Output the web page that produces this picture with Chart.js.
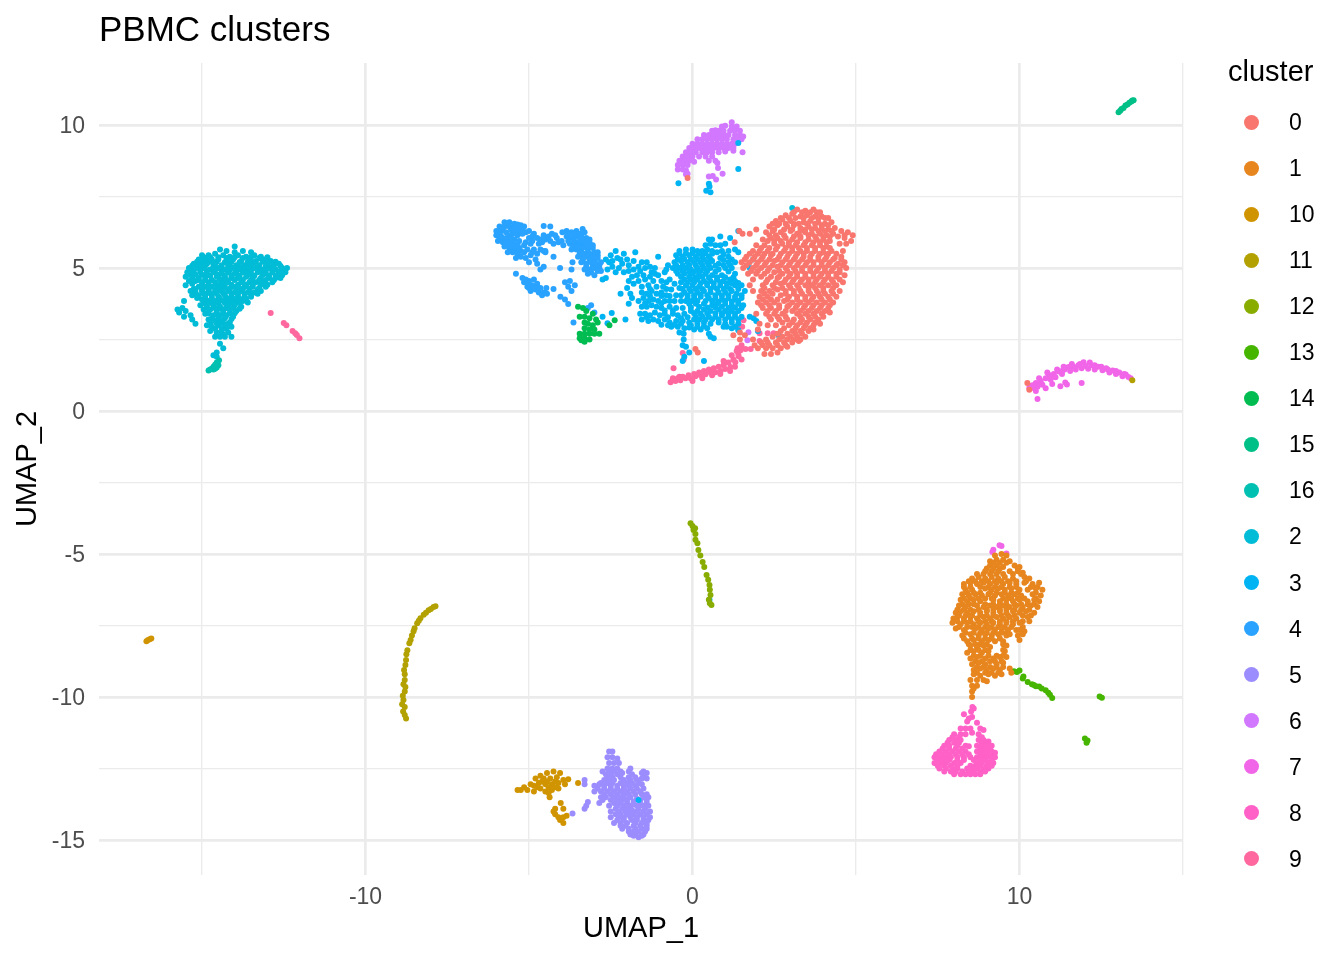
<!DOCTYPE html>
<html>
<head>
<meta charset="utf-8">
<title>PBMC clusters</title>
<script src="https://cdn.jsdelivr.net/npm/chart.js@4"></script>
<style>
  body { margin: 0; background: #fff; font-family: "Liberation Sans", sans-serif; }
  #wrap { position: relative; width: 1344px; height: 960px; }
  #legendTitle { position: absolute; left: 1228px; top: 54px; font-size: 29px; line-height: 34px; color: #000; }
  .dot { position: absolute; left: 1243.5px; width: 15px; height: 15px; border-radius: 50%; }
  .lab { position: absolute; left: 1289px; font-size: 23px; line-height: 28px; color: #000; }
</style>
</head>
<body>
<div id="wrap">
  <canvas id="umap" width="1344" height="960"></canvas>
  <div id="legendTitle">cluster</div>
</div>
<script>
// cluster names in legend order (ggplot sorts them as text)
var clusterNames = ['0','1','10','11','12','13','14','15','16','2','3','4','5','6','7','8','9'];
var clusterColors = ['#F8766D','#E7851E','#D09400','#B2A100','#89AC00','#45B500','#00BC51','#00C087','#00C0B2','#00BCD6','#00B3F2','#29A3FF','#9C8DFF','#D277FF','#F166E8','#FF61C7','#FF689E'];

var xGrid = [-15,-10,-5,0,5,10,15];
var xLabels = [-10,0,10];
var yGrid = [-15,-12.5,-10,-7.5,-5,-2.5,0,2.5,5,7.5,10];
var yLabels = [-15,-10,-5,0,5,10];

// points, [UMAP_1, UMAP_2]
var c0 = [
[3.2,7.05],[3.45,7.0],[3.7,7.05],[3.9,6.95],[3.1,6.95],[3.35,6.95],[3.6,6.95],[3.8,6.95],
[2.85,6.85],[3.05,6.9],[3.3,6.8],[3.5,6.85],[3.75,6.8],[3.95,6.8],[4.15,6.75],[2.7,6.75],[2.95,6.75],[3.15,6.75],[3.4,6.75],[3.65,6.75],[3.85,6.75],[4.05,6.75],
[2.55,6.65],[2.75,6.7],[3.0,6.65],[3.4,6.6],[3.6,6.65],[3.85,6.6],[4.05,6.55],[4.25,6.6],[2.45,6.55],[2.65,6.55],[2.85,6.55],[3.1,6.55],[3.25,6.55],[3.5,6.55],[3.75,6.55],[3.95,6.5],[4.15,6.5],
[2.35,6.45],[2.6,6.5],[2.9,6.45],[3.1,6.5],[3.3,6.4],[3.55,6.45],[3.75,6.4],[3.95,6.4],[4.15,6.35],[4.35,6.4],[2.5,6.35],[2.8,6.35],[3.05,6.35],[3.3,6.3],[3.45,6.35],[3.65,6.35],[3.85,6.3],[4.05,6.3],[4.25,6.3],
[2.25,6.25],[2.45,6.3],[2.7,6.25],[3.0,6.3],[3.2,6.2],[3.45,6.25],[3.65,6.2],[3.9,6.2],[4.1,6.15],[4.3,6.2],[4.55,6.3],[4.75,6.25],[4.9,6.15],[2.35,6.15],[2.55,6.15],[2.8,6.15],[3.1,6.1],[3.3,6.1],[3.55,6.15],[3.75,6.1],[4.0,6.1],[4.2,6.1],[4.65,6.15],
[2.15,6.0],[2.4,6.05],[2.6,6.05],[2.85,6.05],[3.05,6.0],[3.3,6.05],[3.55,6.0],[3.8,6.0],[4.0,6.0],[4.2,5.95],[4.45,6.1],[4.65,6.05],[4.85,5.95],[2.3,5.95],[2.5,5.95],[2.7,5.95],[2.95,5.9],[3.2,5.9],[3.45,5.9],[3.7,5.9],[3.9,5.9],[4.1,5.9],
[1.95,5.8],[2.2,5.8],[2.5,5.85],[2.75,5.85],[2.95,5.8],[3.15,5.8],[3.4,5.8],[3.65,5.8],[3.9,5.8],[4.1,5.75],[4.5,5.85],[4.7,5.85],[2.1,5.7],[2.35,5.7],[2.6,5.75],[2.85,5.7],[3.05,5.7],[3.25,5.7],[3.5,5.7],[3.75,5.7],[4.0,5.7],[4.2,5.7],
[1.85,5.6],[2.05,5.6],[2.3,5.6],[2.55,5.65],[2.8,5.6],[3.05,5.6],[3.3,5.6],[3.5,5.6],[3.75,5.6],[4.0,5.55],[4.25,5.6],[4.6,5.6],[1.75,5.5],[2.0,5.5],[2.2,5.5],[2.45,5.5],[2.7,5.5],[2.95,5.5],[3.2,5.5],[3.4,5.5],[3.65,5.5],[3.9,5.5],[4.15,5.5],[4.4,5.5],
[1.65,5.4],[1.9,5.4],[2.15,5.4],[2.4,5.45],[2.65,5.4],[2.9,5.4],[3.15,5.4],[3.4,5.4],[3.6,5.4],[3.85,5.4],[4.1,5.4],[4.35,5.35],[4.55,5.4],[1.6,5.3],[1.85,5.3],[2.1,5.3],[2.35,5.3],[2.6,5.3],[2.85,5.3],[3.1,5.3],[3.35,5.3],[3.6,5.3],[3.85,5.3],[4.05,5.3],[4.3,5.3],[4.55,5.3],
[1.5,5.2],[1.75,5.2],[2.0,5.2],[2.25,5.2],[2.5,5.25],[2.75,5.2],[3.0,5.2],[3.25,5.2],[3.5,5.2],[3.7,5.2],[3.95,5.2],[4.2,5.2],[4.45,5.15],[4.65,5.2],[1.65,5.1],[1.95,5.1],[2.2,5.1],[2.45,5.1],[2.7,5.1],[2.95,5.1],[3.2,5.1],[3.45,5.1],[3.7,5.1],[3.95,5.1],[4.15,5.1],[4.4,5.1],[4.6,5.1],
[1.55,5.0],[1.85,5.0],[2.1,5.0],[2.35,5.0],[2.6,5.05],[2.85,5.0],[3.1,5.0],[3.35,5.0],[3.6,5.0],[3.85,5.0],[4.05,5.0],[4.3,5.0],[4.5,4.95],[4.7,5.0],[1.8,4.9],[2.0,4.9],[2.3,4.9],[2.65,4.9],[2.9,4.9],[3.15,4.9],[3.35,4.9],[3.6,4.9],[3.8,4.9],[4.05,4.9],[4.25,4.9],[4.5,4.85],
[1.7,4.8],[1.95,4.8],[2.2,4.8],[2.5,4.85],[2.75,4.8],[3.0,4.8],[3.2,4.8],[3.45,4.8],[3.7,4.8],[3.95,4.8],[4.15,4.8],[4.4,4.8],[4.65,4.75],[2.1,4.7],[2.4,4.7],[2.65,4.7],[2.95,4.7],[3.2,4.7],[3.45,4.7],[3.7,4.7],[3.9,4.7],[4.15,4.7],[4.4,4.7],
[1.85,4.6],[2.3,4.6],[2.6,4.65],[2.85,4.6],[3.1,4.6],[3.35,4.6],[3.55,4.6],[3.8,4.6],[4.05,4.6],[4.25,4.6],[4.5,4.6],[4.6,4.5],[2.25,4.5],[2.55,4.5],[2.8,4.5],[3.05,4.5],[3.3,4.5],[3.55,4.5],[3.75,4.5],[4.0,4.5],[4.3,4.5],
[2.15,4.4],[2.45,4.4],[2.7,4.45],[2.95,4.4],[3.2,4.4],[3.45,4.4],[3.65,4.4],[3.9,4.4],[4.15,4.4],[4.4,4.4],[2.2,4.3],[2.5,4.3],[2.75,4.3],[3.0,4.3],[3.25,4.3],[3.55,4.3],[3.75,4.3],[4.0,4.3],[4.3,4.3],
[2.1,4.2],[2.35,4.2],[2.6,4.25],[2.85,4.2],[3.1,4.2],[3.3,4.2],[3.55,4.2],[3.8,4.2],[4.0,4.2],[4.25,4.2],[4.5,4.2],[2.2,4.1],[2.45,4.1],[2.85,4.1],[3.1,4.1],[3.35,4.1],[3.6,4.1],[3.85,4.1],[4.05,4.1],[4.3,4.1],
[2.05,4.0],[2.3,4.0],[2.7,4.05],[2.95,4.0],[3.2,4.0],[3.45,4.0],[3.7,4.0],[3.9,4.0],[4.15,4.0],[4.4,4.0],[2.15,3.9],[2.4,3.9],[2.6,3.9],[2.9,3.9],[3.2,3.9],[3.45,3.9],[3.65,3.9],[3.95,3.9],[4.2,3.9],
[2.0,3.8],[2.25,3.8],[2.5,3.8],[2.8,3.85],[3.05,3.8],[3.3,3.8],[3.55,3.8],[3.8,3.8],[4.05,3.8],[4.3,3.8],[2.1,3.7],[2.35,3.7],[2.65,3.7],[2.95,3.7],[3.2,3.7],[3.45,3.7],[3.7,3.7],[3.95,3.7],[4.2,3.7],
[2.15,3.6],[2.4,3.6],[2.65,3.6],[2.9,3.65],[3.15,3.6],[3.4,3.6],[3.65,3.6],[3.9,3.6],[4.15,3.6],[2.3,3.5],[2.55,3.5],[2.85,3.5],[3.05,3.5],[3.3,3.5],[3.55,3.5],[3.8,3.5],[4.05,3.5],
[2.25,3.4],[2.5,3.4],[2.75,3.4],[3.2,3.4],[3.45,3.4],[3.7,3.4],[3.95,3.4],[4.2,3.45],[2.35,3.3],[2.6,3.3],[2.85,3.3],[3.3,3.3],[3.55,3.3],[3.75,3.3],
[2.4,3.2],[2.65,3.2],[2.9,3.2],[3.1,3.2],[3.35,3.2],[3.6,3.2],[3.85,3.2],[4.0,3.3],[2.75,3.1],[3.05,3.1],[3.3,3.1],[3.5,3.1],[3.75,3.1],
[2.55,3.0],[2.95,3.0],[3.2,3.0],[3.45,3.0],[3.7,3.0],[3.9,3.05],[2.8,2.9],[3.15,2.9],[3.4,2.9],[3.6,2.9],
[2.7,2.8],[3.05,2.8],[3.3,2.8],[3.55,2.8],[3.7,2.85],[2.6,2.7],[2.9,2.7],[3.15,2.7],[3.35,2.7],
[2.45,2.6],[2.75,2.6],[3.0,2.6],[3.2,2.6],[3.45,2.6],[2.25,2.5],[2.65,2.5],[2.9,2.5],[3.1,2.5],[3.3,2.5],
[2.1,2.4],[2.3,2.4],[2.55,2.4],[2.8,2.4],[3.05,2.4],[3.25,2.45],[2.15,2.3],[2.35,2.3],[2.6,2.3],[2.85,2.3],
[2.0,2.2],[2.25,2.2],[2.45,2.2],[2.7,2.2],[2.9,2.25],
[2.2,2.0],[2.4,2.0],[2.6,2.05],[1.9,2.3],[1.85,2.5],
[0.09,2.17],[0.16,2.05],[1.25,2.65],[1.45,2.75],[1.45,2.5],[1.6,2.65],[1.29,5.9],[1.43,6.3],[1.53,6.2],[1.75,6.2],[1.95,6.35],
[1.75,4.4],[1.85,4.2],[1.95,3.4],[2.05,3.05],[2.3,3.0],[2.0,2.85],[10.24,0.98],[10.3,0.75],[-0.15,8.15]
];
var c1 = [
[9.25,-5.05],[9.45,-5.0],[9.6,-5.05],
[9.1,-5.25],[9.3,-5.2],[9.5,-5.2],[9.7,-5.25],[9.2,-5.3],[9.4,-5.3],[9.6,-5.3],
[9.1,-5.4],[9.3,-5.4],[9.5,-5.45],[9.85,-5.4],[10.0,-5.45],[9.0,-5.5],[9.2,-5.5],[9.4,-5.5],[9.95,-5.5],
[8.95,-5.6],[9.15,-5.6],[9.35,-5.6],[9.7,-5.6],[9.95,-5.6],[10.1,-5.65],[8.7,-5.7],[8.9,-5.7],[9.1,-5.7],[9.3,-5.7],[9.5,-5.7],[9.8,-5.7],[10.05,-5.7],
[8.55,-5.85],[8.75,-5.8],[8.95,-5.85],[9.15,-5.8],[9.35,-5.85],[9.55,-5.8],[9.8,-5.85],[10.15,-5.8],[10.3,-5.85],[8.45,-5.95],[8.65,-5.95],[8.85,-5.95],[9.05,-5.95],[9.25,-5.95],[9.45,-5.95],[9.65,-5.95],[9.9,-5.95],[10.2,-5.95],
[8.3,-6.05],[8.5,-6.0],[8.7,-6.05],[8.9,-6.0],[9.1,-6.05],[9.3,-6.0],[9.5,-6.05],[9.7,-6.0],[9.9,-6.05],[10.15,-6.0],[10.4,-6.05],[10.6,-6.0],[8.3,-6.15],[8.5,-6.15],[8.8,-6.15],[9.05,-6.15],[9.25,-6.15],[9.45,-6.15],[9.7,-6.15],[9.9,-6.15],[10.35,-6.15],[10.55,-6.15],
[8.35,-6.25],[8.55,-6.25],[8.95,-6.2],[9.15,-6.25],[9.35,-6.2],[9.55,-6.25],[9.75,-6.2],[10.0,-6.25],[10.25,-6.25],[10.5,-6.2],[10.7,-6.25],[8.4,-6.35],[8.6,-6.35],[8.8,-6.35],[9.1,-6.35],[9.3,-6.35],[9.55,-6.35],[9.75,-6.35],[9.95,-6.35],[10.5,-6.35],
[8.25,-6.4],[8.45,-6.45],[8.65,-6.4],[8.85,-6.45],[9.05,-6.4],[9.25,-6.45],[9.45,-6.4],[9.65,-6.45],[9.85,-6.4],[10.05,-6.45],[10.4,-6.4],[10.65,-6.45],[8.3,-6.55],[8.5,-6.55],[8.75,-6.55],[8.95,-6.55],[9.15,-6.55],[9.5,-6.55],[9.75,-6.55],[9.95,-6.55],[10.15,-6.55],[10.5,-6.55],
[8.2,-6.6],[8.4,-6.65],[8.6,-6.6],[8.8,-6.65],[9.2,-6.6],[9.4,-6.65],[9.6,-6.6],[9.8,-6.65],[10.0,-6.6],[10.25,-6.65],[10.45,-6.6],[10.6,-6.65],[8.25,-6.75],[8.45,-6.75],[8.6,-6.75],[8.95,-6.75],[9.2,-6.75],[9.4,-6.75],[9.6,-6.75],[9.85,-6.75],[10.05,-6.75],[10.25,-6.75],[10.45,-6.75],
[8.15,-6.8],[8.35,-6.85],[8.7,-6.8],[8.9,-6.85],[9.1,-6.8],[9.3,-6.85],[9.5,-6.8],[9.7,-6.85],[9.9,-6.8],[10.1,-6.85],[10.35,-6.8],[10.55,-6.85],[8.1,-6.95],[8.3,-6.95],[8.5,-6.95],[8.75,-6.95],[9.0,-6.95],[9.2,-6.95],[9.4,-6.95],[9.6,-6.95],[9.85,-6.95],[10.05,-6.95],[10.3,-6.95],
[8.05,-7.05],[8.2,-7.0],[8.4,-7.05],[8.6,-7.0],[8.8,-7.05],[9.0,-7.0],[9.2,-7.05],[9.4,-7.0],[9.6,-7.05],[9.8,-7.0],[10.0,-7.05],[10.2,-7.0],[10.45,-7.05],[8.15,-7.15],[8.35,-7.15],[8.55,-7.15],[8.8,-7.15],[9.0,-7.15],[9.2,-7.15],[9.45,-7.15],[9.65,-7.15],[9.85,-7.15],[10.1,-7.15],[10.35,-7.15],
[7.98,-7.25],[8.1,-7.2],[8.3,-7.25],[8.5,-7.2],[8.7,-7.25],[8.9,-7.2],[9.1,-7.25],[9.3,-7.2],[9.5,-7.25],[9.7,-7.2],[9.9,-7.25],[10.25,-7.2],[8.1,-7.35],[8.3,-7.35],[8.5,-7.35],[8.75,-7.35],[8.95,-7.35],[9.15,-7.35],[9.4,-7.35],[9.6,-7.35],[9.8,-7.35],[10.1,-7.35],[10.3,-7.35],
[7.95,-7.4],[8.2,-7.45],[8.4,-7.4],[8.6,-7.45],[8.8,-7.4],[9.0,-7.45],[9.2,-7.4],[9.4,-7.45],[9.6,-7.4],[9.8,-7.45],[10.0,-7.4],[8.15,-7.55],[8.4,-7.55],[8.55,-7.55],[8.75,-7.55],[8.95,-7.55],[9.15,-7.55],[9.35,-7.55],[9.55,-7.55],[9.75,-7.55],[10.1,-7.55],
[8.05,-7.6],[8.3,-7.65],[8.65,-7.6],[8.85,-7.65],[9.05,-7.6],[9.25,-7.65],[9.45,-7.6],[9.65,-7.65],[9.9,-7.65],[10.0,-7.65],[10.15,-7.7],[8.35,-7.75],[8.6,-7.75],[8.8,-7.75],[9.0,-7.75],[9.2,-7.75],[9.45,-7.75],[9.6,-7.75],
[8.25,-7.85],[8.5,-7.8],[8.75,-7.85],[8.95,-7.8],[9.15,-7.85],[9.35,-7.8],[9.6,-7.85],[9.7,-7.8],[9.95,-7.85],[10.1,-7.8],[10.0,-8.0],[8.3,-7.95],[8.55,-7.95],[8.75,-7.95],[8.95,-7.95],[9.15,-7.95],[9.4,-7.95],
[8.4,-8.05],[8.6,-8.0],[8.85,-8.05],[9.05,-8.0],[9.25,-8.05],[9.5,-8.05],[8.45,-8.15],[8.65,-8.15],[8.8,-8.15],[9.0,-8.15],[9.5,-8.15],
[8.5,-8.2],[8.7,-8.25],[8.9,-8.2],[9.1,-8.25],[9.6,-8.2],[8.5,-8.35],[8.75,-8.35],[8.95,-8.35],[9.5,-8.35],
[8.4,-8.45],[8.6,-8.4],[8.85,-8.45],[9.05,-8.4],[9.55,-8.4],[8.6,-8.55],[8.8,-8.55],[9.05,-8.55],[9.3,-8.55],[9.5,-8.55],
[8.5,-8.65],[8.7,-8.6],[8.95,-8.65],[9.2,-8.65],[9.4,-8.6],[9.6,-8.6],[8.65,-8.75],[8.85,-8.75],[9.25,-8.75],[9.45,-8.75],
[8.55,-8.85],[8.75,-8.8],[8.95,-8.85],[9.1,-8.75],[9.3,-8.85],[9.5,-8.8],[8.7,-8.95],[8.9,-8.95],[9.1,-8.95],[9.3,-8.95],[9.5,-8.95],
[8.6,-9.05],[8.8,-9.0],[9.0,-9.05],[9.2,-9.0],[9.4,-9.05],[9.7,-9.0],[8.7,-9.15],[8.95,-9.15],[9.15,-9.15],[9.35,-9.15],
[8.6,-9.2],[8.8,-9.25],[9.05,-9.2],[9.25,-9.25],[9.45,-9.2],[9.75,-9.15],
[8.5,-9.4],[8.7,-9.4],[8.9,-9.4],[9.0,-9.45],
[8.55,-9.6],[8.7,-9.6],[8.55,-9.8],[8.6,-9.7],[8.55,-10.0]
];
var c10 = [
[-16.7,-8.05],[-16.65,-8.0],[-16.6,-7.98],[-16.55,-7.95],
[-5.35,-13.25],[-5.25,-13.25],[-5.15,-13.15],[-5.05,-13.25],[-4.95,-13.05],
[-4.85,-13.3],[-4.85,-13.1],[-4.8,-12.85],[-4.7,-13.0],[-4.65,-12.75],[-4.65,-13.2],[-4.55,-12.85],[-4.5,-13.05],[-4.5,-13.3],
[-4.45,-12.65],[-4.35,-12.85],[-4.3,-13.05],[-4.3,-13.25],[-4.25,-12.6],[-4.15,-12.8],[-4.1,-13.0],[-4.1,-13.2],
[-4.05,-12.65],[-3.95,-12.9],[-3.9,-13.05],[-4.37,-13.5],[-4.4,-13.35],[-3.8,-12.87],[-3.5,-13.0],
[-4.45,-12.95],[-4.6,-12.95],[-4.2,-12.95],[-4.2,-13.15],[-4.4,-13.15],[-4.75,-13.15],
[-4.03,-13.7],[-3.95,-13.9],[-4.2,-13.9],[-4.25,-14.0],[-4.2,-14.1],[-4.1,-14.2],[-4.05,-14.3],[-3.95,-14.4],[-3.95,-14.2],[-3.85,-14.15]
];
var c11 = [
[-7.86,-6.82],[-7.92,-6.85],[-8.0,-6.92],[-8.07,-6.96],[-8.15,-7.05],[-8.22,-7.12],[-8.32,-7.24],[-8.37,-7.33],[-8.42,-7.42],[-8.5,-7.59],[-8.53,-7.7],
[-8.58,-7.85],[-8.62,-8.0],[-8.66,-8.12],[-8.72,-8.36],[-8.75,-8.5],[-8.76,-8.7],[-8.78,-8.88],[-8.82,-9.05],[-8.8,-9.2],[-8.8,-9.4],[-8.84,-9.55],[-8.78,-9.65],
[-8.8,-9.8],[-8.86,-9.95],[-8.84,-10.1],[-8.88,-10.25],[-8.8,-10.35],[-8.85,-10.5],[-8.8,-10.63],[-8.76,-10.75],[13.45,1.08]
];
var c12 = [
[-0.06,-3.92],[0.0,-4.02],[0.03,-4.16],[0.08,-4.1],[0.09,-4.3],[0.09,-4.5],[0.15,-4.62],[0.18,-4.86],[0.24,-5.05],[0.31,-5.28],[0.36,-5.45],[0.43,-5.73],
[0.48,-5.9],[0.52,-6.08],[0.53,-6.25],[0.55,-6.43],[0.5,-6.6],[0.58,-6.78],[0.53,-6.72]
];
var c13 = [
[9.83,-9.1],[10.0,-9.07],[9.92,-9.12],[10.1,-9.35],[10.12,-9.28],[10.25,-9.47],[10.38,-9.55],[10.44,-9.58],[10.5,-9.62],[10.6,-9.63],[10.68,-9.7],[10.8,-9.76],[10.88,-9.85],[10.93,-9.92],[11.0,-10.03],
[12.45,-9.98],[12.52,-10.02],[12.0,-11.45],[12.08,-11.52],[12.05,-11.6]
];
var c14 = [
[-3.5,3.65],[-3.35,3.6],[-3.25,3.5],[-3.05,3.4],[-3.45,3.3],[-3.3,3.3],[-3.15,3.25],[-2.95,3.2],[-3.3,3.1],[-3.2,3.05],[-3.05,3.0],[-2.9,3.1],
[-3.3,2.9],[-3.15,2.85],[-3.0,2.85],[-3.45,2.7],[-3.3,2.7],[-3.15,2.7],[-3.0,2.7],[-2.85,2.7],[-3.45,2.55],[-3.3,2.55],[-3.15,2.5],[-3.3,2.42],[-3.4,2.48],[-2.38,3.18],[-2.54,3.0]
];
var c15 = [
[13.03,10.45],[13.08,10.5],[13.12,10.56],[13.18,10.6],[13.24,10.68],[13.3,10.72],[13.36,10.78],[13.42,10.82],[13.49,10.87],[13.45,10.86]
];
var c16 = [
[-14.8,1.42],[-14.75,1.45],[-14.7,1.48],[-14.65,1.45],[-14.6,1.48],[-14.65,1.55],[-14.6,1.62],[-14.55,1.52],[-14.5,1.6],[-14.55,1.7],[-14.48,1.78]
];
var c2 = [
[-14.0,5.75],[-14.45,5.65],[-14.25,5.6],[-14.0,5.55],[-13.75,5.6],[-13.5,5.55],
[-15,5.45],[-14.8,5.45],[-14.6,5.5],[-14.35,5.45],[-14.15,5.4],[-13.9,5.45],[-13.65,5.4],[-13.4,5.45],[-13.2,5.4],
[-14.95,5.38],[-14.75,5.38],[-14.5,5.38],[-14.25,5.35],[-14.0,5.38],[-13.75,5.35],[-13.5,5.38],[-13.25,5.35],[-13.0,5.38],
[-15.1,5.3],[-14.9,5.3],[-14.7,5.3],[-14.5,5.3],[-14.25,5.25],[-14.05,5.3],[-13.8,5.25],[-13.55,5.3],[-13.35,5.25],[-13.1,5.3],[-12.9,5.25],
[-15.15,5.22],[-14.95,5.22],[-14.75,5.22],[-14.55,5.22],[-14.3,5.2],[-14.1,5.22],[-13.85,5.2],[-13.6,5.22],[-13.4,5.2],[-13.15,5.22],[-12.95,5.2],[-12.75,5.22],
[-15.25,5.15],[-15.05,5.15],[-14.85,5.15],[-14.6,5.15],[-14.4,5.1],[-14.15,5.15],[-13.95,5.1],[-13.7,5.1],[-13.5,5.15],[-13.25,5.1],[-13.0,5.15],[-12.8,5.1],[-12.65,5.15],
[-15.3,5.08],[-15.1,5.08],[-14.9,5.08],[-14.65,5.06],[-14.45,5.02],[-14.2,5.08],[-14.0,5.03],[-13.8,5.03],[-13.55,5.06],[-13.3,5.04],[-13.05,5.07],[-12.85,5.04],[-12.6,5.07],
[-15.4,5.0],[-15.15,5.0],[-14.95,5.0],[-14.75,4.95],[-14.5,5.0],[-14.3,4.95],[-14.05,5.0],[-13.85,4.95],[-13.6,4.95],[-13.4,5.0],[-13.15,4.95],[-12.95,5.0],[-12.75,4.95],[-12.55,5.0],[-12.4,5.0],
[-15.3,4.92],[-15.05,4.92],[-14.85,4.9],[-14.6,4.92],[-14.4,4.88],[-14.15,4.92],[-13.95,4.88],[-13.7,4.9],[-13.5,4.92],[-13.25,4.9],[-13.05,4.9],[-12.85,4.92],[-12.65,4.88],[-12.5,4.92],
[-15.45,4.85],[-15.25,4.85],[-15.05,4.85],[-14.85,4.8],[-14.65,4.85],[-14.4,4.8],[-14.2,4.85],[-14,4.8],[-13.75,4.85],[-13.5,4.8],[-13.3,4.85],[-13.05,4.8],[-12.85,4.85],[-12.65,4.8],[-12.45,4.85],
[-15.4,4.77],[-15.2,4.77],[-15.0,4.77],[-14.75,4.73],[-14.5,4.77],[-14.3,4.73],[-14.1,4.73],[-13.85,4.73],[-13.6,4.77],[-13.4,4.73],[-13.15,4.77],[-12.95,4.73],[-12.75,4.73],[-12.55,4.75],
[-15.5,4.7],[-15.3,4.7],[-15.1,4.65],[-14.9,4.65],[-14.55,4.7],[-14.3,4.65],[-14.1,4.65],[-13.9,4.65],[-13.65,4.7],[-13.45,4.65],[-13.2,4.65],[-12.95,4.65],[-12.75,4.65],[-12.6,4.65],
[-15.3,4.6],[-15.1,4.58],[-14.9,4.58],[-14.7,4.58],[-14.45,4.6],[-14.25,4.58],[-14.0,4.58],[-13.75,4.58],[-13.5,4.58],[-13.25,4.58],[-13.05,4.58],[-12.8,4.58],
[-15.4,4.55],[-15.2,4.55],[-15,4.5],[-14.8,4.5],[-14.6,4.5],[-14.4,4.5],[-14.2,4.5],[-13.8,4.5],[-13.55,4.5],[-13.35,4.5],[-13.15,4.5],[-12.85,4.5],
[-15.3,4.45],[-15.0,4.42],[-14.8,4.42],[-14.55,4.42],[-14.35,4.42],[-14.1,4.42],[-13.9,4.42],[-13.65,4.42],[-13.45,4.42],[-13.2,4.42],[-13.0,4.42],
[-15.5,4.4],[-15.1,4.35],[-14.9,4.35],[-14.7,4.35],[-14.5,4.35],[-14.3,4.35],[-14.05,4.35],[-13.9,4.35],[-13.7,4.35],[-13.45,4.35],[-13.25,4.3],[-13.05,4.35],
[-15.25,4.28],[-15.0,4.28],[-14.8,4.28],[-14.55,4.28],[-14.35,4.28],[-14.15,4.28],[-13.95,4.28],[-13.75,4.28],[-13.55,4.28],[-13.3,4.25],
[-15.35,4.2],[-15.2,4.2],[-15.0,4.2],[-14.8,4.2],[-14.6,4.2],[-14.4,4.2],[-14.2,4.2],[-14.0,4.15],[-13.8,4.2],[-13.6,4.15],[-13.4,4.15],[-13.2,4.2],
[-15.2,4.12],[-14.95,4.12],[-14.75,4.12],[-14.55,4.12],[-14.35,4.12],[-14.1,4.1],[-13.9,4.1],[-13.7,4.1],[-13.5,4.1],[-13.3,4.1],
[-15.3,4.05],[-15.1,4.05],[-14.9,4.05],[-14.7,4.05],[-14.5,4.0],[-14.3,4.05],[-14.1,4.0],[-13.9,4.0],[-13.7,4.0],[-13.5,4.0],
[-15.15,3.95],[-14.9,3.95],[-14.7,3.95],[-14.45,3.93],[-14.25,3.95],[-14.05,3.93],[-13.85,3.93],[-13.65,3.93],
[-15.0,3.9],[-14.8,3.85],[-14.6,3.85],[-14.35,3.85],[-14.15,3.85],[-13.95,3.85],[-13.75,3.85],[-13.6,3.8],[-15.55,3.85],
[-14.95,3.78],[-14.7,3.78],[-14.5,3.78],[-14.3,3.78],[-14.05,3.78],[-13.85,3.78],
[-15.05,3.7],[-14.85,3.7],[-14.65,3.7],[-14.45,3.65],[-14.2,3.7],[-14.0,3.7],[-13.8,3.65],
[-14.85,3.6],[-14.6,3.6],[-14.4,3.58],[-14.25,3.6],[-14.05,3.6],[-13.85,3.58],
[-15.75,3.55],[-15.6,3.6],[-15.5,3.5],[-14.95,3.55],[-14.75,3.55],[-14.55,3.5],[-14.35,3.5],[-14.15,3.55],[-13.95,3.5],
[-14.8,3.42],[-14.55,3.42],[-14.35,3.42],[-14.15,3.42],[-14.0,3.42],
[-15.7,3.45],[-15.55,3.3],[-15.35,3.35],[-15.3,3.2],[-14.9,3.4],[-14.65,3.35],[-14.45,3.35],[-14.25,3.35],[-14.05,3.3],
[-14.7,3.25],[-14.5,3.25],[-14.3,3.25],[-14.1,3.22],
[-15.2,3.05],[-14.8,3.2],[-14.6,3.15],[-14.4,3.15],[-14.15,3.1],
[-14.75,3.07],[-14.55,3.07],[-14.35,3.07],[-14.2,3.05],
[-14.85,3.0],[-14.7,2.95],[-14.5,3.0],[-14.3,2.95],[-14.1,2.95],
[-14.6,2.88],[-14.4,2.88],[-14.25,2.88],[-14.5,2.68],[-14.35,2.68],
[-14.75,2.8],[-14.55,2.75],[-14.4,2.8],[-14.2,2.75],[-14.6,2.6],[-14.45,2.6],[-14.3,2.6],[-14.1,2.6],
[-14.45,2.35],[-14.35,2.2],[-14.55,2.05],[-14.65,1.95],[-14.55,1.9],[3.05,7.1]
];
var c3 = [
[-2.65,5.3],[-2.5,5.45],[-2.55,5.2],[-2.35,5.6],[-2.3,5.35],[-2.15,5.15],[-2.1,5.5],[-2.0,5.3],[-1.95,5.1],[-1.8,5.25],[-1.75,5.55],[-1.65,5.05],
[-2.6,4.95],[-2.45,5.05],[-2.35,4.85],[-2.25,5.0],[-2.1,4.85],[-1.95,4.9],[-1.8,4.95],[-1.7,4.75],[-1.6,4.9],[-1.45,5.0],[-1.4,5.2],[-1.3,5.05],[-1.55,5.2],[-1.25,4.85],[-1.15,5.0],[-1.05,5.4],
[-1.95,4.55],[-1.8,4.45],[-1.65,4.55],[-1.55,4.35],[-1.45,4.6],[-1.35,4.4],[-1.2,4.55],[-1.05,4.75],[-0.95,4.55],[-0.85,4.85],[-1.1,4.35],[-0.9,4.35],[-0.7,4.6],[-0.75,5.1],[-0.8,4.95],
[-1.5,4.75],[-1.3,4.7],[-1.85,4.7],[-1.15,4.8],[-2.2,5.3],[-2.45,5.25],
[-1.55,4.15],[-1.4,4.1],[-1.25,4.2],[-1.1,4.1],[-0.95,4.15],[-0.8,4.05],[-0.65,4.25],[-0.55,4.45],[-0.5,4.05],[-0.4,4.3],
[-1.65,3.85],[-1.5,3.95],[-1.35,3.85],[-1.2,3.9],[-1.05,3.85],[-0.85,3.85],[-0.7,3.85],[-0.55,3.85],[-0.35,3.85],[-1.55,3.65],[-1.4,3.65],[-1.25,3.7],[-1.1,3.65],[-0.95,3.6],[-0.7,3.65],[-0.5,3.6],[-0.3,3.6],
[-1.6,3.4],[-1.45,3.4],[-1.3,3.35],[-1.15,3.45],[-1.0,3.35],[-0.85,3.4],[-0.6,3.4],[-0.45,3.35],[-0.25,3.4],
[-1.55,3.2],[-1.35,3.15],[-1.2,3.2],[-1.05,3.15],[-0.85,3.2],[-0.7,3.1],[-0.5,3.15],[-0.3,3.15],[-0.65,2.95],[-0.45,2.95],[-0.25,2.9],[-0.05,3.0],[-0.4,2.75],[-0.27,2.7],
[-0.4,5.6],[-0.2,5.65],[0.0,5.65],[0.15,5.6],[0.3,5.6],[0.45,5.65],[0.6,5.6],[0.75,5.55],[0.9,5.6],[1.1,5.6],[1.3,5.65],[1.4,5.55],
[0.5,6.0],[0.6,6.0],[0.85,6.1],[1.15,6.05],[1.4,6.3],[0.4,5.8],[0.55,5.85],[0.7,5.8],[0.85,5.8],[1.0,5.85],
[-0.4,5.5],[-0.2,5.52],[0.0,5.52],[0.2,5.5],[0.4,5.52],[0.6,5.5],[0.95,5.48],
[-0.5,5.45],[-0.3,5.4],[-0.1,5.45],[0.1,5.4],[0.3,5.4],[0.5,5.4],[0.85,5.35],[1.1,5.4],
[-0.45,5.3],[-0.25,5.32],[-0.05,5.3],[0.15,5.3],[0.35,5.3],[0.55,5.3],[0.95,5.28],[1.2,5.3],
[-0.55,5.2],[-0.35,5.25],[-0.15,5.2],[0.05,5.2],[0.25,5.2],[0.45,5.2],[0.6,5.25],[0.8,5.15],[1.1,5.2],[1.3,5.2],
[-0.5,5.1],[-0.3,5.1],[-0.1,5.1],[0.1,5.1],[0.3,5.1],[0.5,5.1],[0.7,5.08],[0.95,5.1],[1.15,5.1],
[-0.6,5.0],[-0.4,5.0],[-0.2,5.0],[-0.05,4.95],[0.15,5.0],[0.35,5.0],[0.55,5.0],[0.8,4.95],[1.0,5.0],[1.2,5.0],
[-0.5,4.9],[-0.3,4.9],[-0.1,4.88],[0.1,4.9],[0.25,4.9],[0.45,4.9],[0.7,4.87],[1.1,4.88],
[-0.45,4.8],[-0.25,4.8],[0.0,4.8],[0.2,4.75],[0.4,4.8],[0.6,4.75],[0.9,4.75],[1.3,4.8],
[-0.35,4.7],[-0.1,4.7],[0.1,4.68],[0.3,4.7],[0.5,4.67],[0.75,4.68],[1.0,4.68],[1.25,4.68],
[-0.25,4.6],[-0.05,4.6],[0.15,4.6],[0.35,4.55],[0.55,4.55],[0.75,4.6],[0.95,4.55],[1.15,4.6],[1.3,4.55],
[-0.8,4.5],[-0.35,4.5],[-0.15,4.5],[0.05,4.5],[0.25,4.47],[0.45,4.47],[0.65,4.47],[0.85,4.5],[1.05,4.47],[1.2,4.47],[1.4,4.48],
[-0.2,4.4],[0.0,4.4],[0.2,4.35],[0.45,4.4],[0.65,4.35],[0.85,4.4],[1.05,4.35],[1.3,4.4],[1.5,4.4],[1.6,4.2],
[-1.3,4.27],[-0.8,4.27],[-0.3,4.27],[-0.1,4.27],[0.1,4.27],[0.3,4.27],[0.55,4.27],[0.75,4.27],[0.95,4.27],[1.15,4.27],[1.4,4.27],
[-0.25,4.15],[-0.05,4.2],[0.15,4.15],[0.35,4.2],[0.55,4.15],[0.8,4.15],[1.0,4.15],[1.2,4.2],[1.35,4.1],
[-1.3,4.02],[-0.95,4.02],[-0.7,4.02],[-0.35,4.05],[-0.15,4.05],[0.05,4.05],[0.25,4.07],[0.45,4.05],[0.7,4.05],[0.9,4.02],[1.1,4.05],[1.3,4.0],[1.5,4.05],
[-0.15,3.95],[0.05,3.95],[0.25,4.0],[0.5,3.95],[0.7,3.95],[0.9,3.9],[1.1,3.95],[1.3,3.9],[1.5,3.95],
[-1.45,3.77],[-0.95,3.77],[-0.2,3.85],[-0.02,3.85],[0.15,3.85],[0.4,3.85],[0.6,3.85],[0.8,3.82],[1.0,3.85],[1.2,3.82],[1.4,3.85],
[-0.1,3.75],[0.1,3.75],[0.35,3.75],[0.6,3.7],[0.75,3.75],[1.0,3.75],[1.2,3.7],[1.4,3.75],[1.55,3.7],
[-0.85,3.52],[-0.6,3.52],[-0.05,3.62],[0.2,3.65],[0.45,3.62],[0.7,3.62],[0.9,3.65],[1.1,3.6],[1.3,3.62],[1.5,3.6],
[-0.05,3.5],[0.15,3.5],[0.35,3.55],[0.55,3.5],[0.8,3.55],[1.0,3.5],[1.2,3.5],[1.4,3.5],
[-1.4,3.28],[-0.75,3.28],[-0.35,3.25],[-0.15,3.28],[0.05,3.42],[0.25,3.4],[0.45,3.42],[0.7,3.42],[0.9,3.42],[1.1,3.4],[1.3,3.4],
[0.1,3.3],[0.3,3.3],[0.5,3.3],[0.7,3.3],[0.9,3.35],[1.1,3.3],[1.3,3.3],[1.5,3.3],[1.75,3.3],[1.95,3.15],
[-0.95,3.02],[-0.75,3.0],[-0.55,3.02],[-0.35,3.05],[-0.1,3.1],[0.05,3.2],[0.2,3.2],[0.4,3.2],[0.6,3.2],[0.8,3.2],[1.0,3.2],[1.2,3.2],[1.4,3.2],
[0.15,3.05],[0.35,3.1],[0.55,3.05],[0.8,3.1],[1.0,3.05],[1.2,3.1],[1.4,3.05],
[-0.1,2.92],[0.15,2.95],[0.35,2.97],[1.05,2.95],[1.3,2.95],
[0.05,2.85],[0.25,2.85],[0.45,2.9],[0.95,2.95],[1.2,2.9],[1.4,2.83],[1.87,3.25],[0.5,2.7],[0.55,2.6],[0.65,2.55],
[-0.27,2.5],[-0.3,2.3],[-0.2,2.25],[-0.1,2.05],[-0.25,1.9],[-0.3,1.75],[0.35,1.75],[1.85,5.3],[1.75,5.0],[2.0,2.8],[2.63,2.65],
[-2.75,3.3],[-2.47,3.43],[-2.6,3.07],[-2.05,3.2],[-2.2,4.1],[-2.75,4.6],[-2.65,4.65],[-2.0,4.3],[-1.9,4.1],[-1.85,3.95],[-1.95,3.75],
[-0.43,7.97],[1.4,8.46],[0.5,7.95],[0.52,7.85],[0.42,7.7],[0.55,7.65],[1.4,9.37],[0.52,-6.6],[-1.65,-13.6]
];
var c4 = [
[-5.75,6.6],[-5.6,6.6],[-5.45,6.55],[-5.25,6.5],[-5.15,6.45],[-5.9,6.45],[-5.75,6.45],[-5.6,6.45],[-5.45,6.4],[-5.3,6.3],[-5.1,6.25],[-6.0,6.3],[-5.85,6.3],[-5.7,6.25],[-5.5,6.2],[-5.35,6.15],
[-5.65,6.52],[-5.35,6.52],[-5.8,6.38],[-5.55,6.35],[-5.35,6.38],[-5.2,6.38],[-5.9,6.2],[-5.6,6.15],[-5.4,6.25],[-5.2,6.2],[-5.9,6.02],[-5.75,6.0],[-5.6,5.95],[-5.45,6.0],[-5.7,5.8],[-5.55,5.78],[-5.35,5.82],[-5.15,5.8],[-5.55,5.62],[-5.4,5.62],[-5.25,5.6],
[-6.0,6.15],[-5.85,6.1],[-5.7,6.05],[-5.55,6.05],[-5.95,5.95],[-5.8,5.9],[-5.65,5.85],[-5.5,5.9],[-5.3,5.95],[-5.75,5.75],[-5.6,5.7],[-5.45,5.75],[-5.3,5.7],[-5.65,5.55],[-5.5,5.55],[-5.35,5.5],[-5.15,5.55],[-5.4,5.35],[-5.25,5.4],
[-5.0,6.3],[-4.85,6.2],[-5.0,6.05],[-4.75,6.05],[-5.1,5.9],[-4.95,5.85],[-4.7,5.85],[-4.5,6.0],[-4.35,5.95],[-4.55,6.15],[-4.3,6.2],[-4.15,6.05],[-4.85,5.65],[-5.05,5.65],[-4.65,5.65],[-5.1,5.35],[-4.95,5.45],[-4.8,5.3],[-5.0,5.2],[-4.75,5.15],[-4.55,5.6],[-4.5,5.55],
[-4.9,6.1],[-4.65,6.0],[-4.4,6.1],[-4.2,6.15],[-4.9,5.95],[-4.6,5.9],[-4.25,5.85],[-4.1,5.9],[-4.75,5.5],[-4.9,5.55],
[-4.55,6.47],[-4.35,6.45],[-3.98,6.25],[-4.0,5.95],[-3.85,6.3],[-3.7,6.25],[-3.55,6.3],[-3.36,6.37],[-3.85,6.1],[-3.7,6.05],[-3.55,6.1],[-3.4,6.1],[-3.25,6.05],[-3.95,5.8],[-3.75,5.85],[-3.6,5.85],[-3.45,5.85],[-3.3,5.85],[-3.15,5.9],[-3.7,5.65],[-3.55,5.65],[-3.4,5.6],[-3.2,5.65],[-3.05,5.7],[-2.9,5.55],
[-3.8,6.2],[-3.62,6.18],[-3.45,6.2],[-3.3,6.25],[-3.8,5.95],[-3.62,5.95],[-3.45,5.95],[-3.3,5.95],[-3.15,6.0],[-3.65,5.75],[-3.5,5.75],[-3.35,5.72],[-3.2,5.75],[-3.05,5.8],[-3.45,5.5],[-3.3,5.5],[-3.15,5.5],[-3.0,5.55],[-2.9,5.45],[-3.35,5.3],[-3.15,5.3],[-3.0,5.28],[-2.85,5.1],[-3.05,5.08],[-3.25,5.05],[-2.9,4.9],[-3.1,4.85],
[-3.5,5.4],[-3.35,5.4],[-3.2,5.4],[-3.05,5.4],[-2.9,5.35],[-3.4,5.2],[-3.25,5.15],[-3.1,5.2],[-2.95,5.15],[-2.8,5.2],[-3.3,4.95],[-3.15,4.95],[-3.0,5.0],[-2.85,5.0],[-2.8,4.9],[-3.0,4.75],[-3.2,4.8],
[-4.25,5.4],[-4.5,5.6],[-4.65,4.95],[-4.55,5.05],[-4.05,5.0],[-3.67,5.2],[-3.7,4.95],
[-5.4,4.8],[-5.2,4.65],[-5.15,4.5],[-5.0,4.55],[-5.05,4.35],[-4.9,4.4],[-4.95,4.2],[-4.8,4.25],[-4.75,4.45],[-4.7,4.15],[-4.55,4.15],[-4.85,4.6],[-4.75,4.3],[-4.47,4.3],[-4.25,4.27],[-4.45,4.1],
[-5.1,4.6],[-5.0,4.45],[-4.85,4.3],[-5.0,4.3],[-4.65,4.3],[-4.6,4.05],
[-4.04,4.0],[-3.9,3.9],[-3.8,3.74],[-3.8,4.35],[-3.9,4.5],[-3.7,4.2],[-3.6,4.4],[-3.75,4.55],[-3.64,3.1],[-3.1,3.7],
[-3.2,3.6],[-3.0,3.45]
];
var c5 = [
[-2.55,-11.9],[-2.45,-11.9],[-2.6,-12.1],[-2.45,-12.1],[-2.3,-12.15],[-2.55,-12.3],[-2.4,-12.3],[-2.25,-12.3],[-2.6,-12.5],[-2.45,-12.5],[-2.3,-12.5],[-1.9,-12.5],
[-2.75,-12.6],[-2.55,-12.6],[-2.4,-12.6],[-2.2,-12.6],[-1.95,-12.6],[-1.5,-12.6],
[-2.65,-12.7],[-2.5,-12.7],[-2.3,-12.7],[-2.15,-12.65],[-1.85,-12.7],[-1.55,-12.65],[-1.4,-12.65],[-2.7,-12.9],[-2.55,-12.9],[-2.4,-12.9],[-2.1,-12.9],[-1.9,-12.9],[-1.7,-12.9],[-1.55,-12.85],[-1.4,-12.85],
[-2.6,-12.8],[-2.45,-12.8],[-2.2,-12.8],[-1.95,-12.8],[-1.75,-12.8],[-1.5,-12.78],
[-2.8,-13.0],[-2.6,-13.0],[-2.45,-13.0],[-2.2,-13.0],[-2.0,-13.0],[-1.85,-13.0],[-1.65,-13.0],
[-3.0,-13.1],[-2.85,-13.05],[-2.7,-13.1],[-2.5,-13.1],[-2.3,-13.1],[-2.1,-13.1],[-1.95,-13.1],[-1.75,-13.1],[-1.55,-13.05],
[-2.9,-13.2],[-2.7,-13.2],[-2.5,-13.2],[-2.3,-13.2],[-2.1,-13.2],[-1.9,-13.2],[-1.7,-13.2],[-1.5,-13.2],
[-3.0,-13.3],[-2.8,-13.3],[-2.6,-13.3],[-2.4,-13.3],[-2.2,-13.3],[-2.0,-13.3],[-1.8,-13.3],[-1.6,-13.3],
[-2.7,-13.4],[-2.5,-13.4],[-2.3,-13.4],[-2.1,-13.4],[-1.95,-13.4],[-1.75,-13.4],[-1.55,-13.4],[-1.4,-13.4],
[-2.8,-13.5],[-2.65,-13.5],[-2.4,-13.5],[-2.25,-13.5],[-2.1,-13.5],[-1.9,-13.5],[-1.7,-13.55],[-1.5,-13.5],[-1.35,-13.5],
[-2.75,-13.6],[-2.5,-13.6],[-2.3,-13.6],[-2.15,-13.6],[-2.0,-13.6],[-1.8,-13.65],[-1.6,-13.62],[-1.4,-13.6],
[-2.85,-13.7],[-2.4,-13.7],[-2.2,-13.7],[-2.0,-13.7],[-1.8,-13.75],[-1.6,-13.75],[-1.4,-13.7],
[-2.55,-13.8],[-2.3,-13.8],[-2.1,-13.8],[-1.9,-13.8],[-1.7,-13.8],[-1.5,-13.8],[-1.35,-13.8],
[-2.35,-13.9],[-2.15,-13.9],[-2.0,-13.9],[-1.85,-13.95],[-1.65,-13.9],[-1.45,-13.9],
[-2.5,-14.0],[-2.25,-14.0],[-2.05,-14.0],[-1.9,-14.02],[-1.7,-14.0],[-1.5,-14.0],[-1.3,-14.0],
[-2.35,-14.1],[-2.2,-14.1],[-2.0,-14.1],[-1.8,-14.1],[-1.6,-14.1],[-1.4,-14.1],
[-2.5,-14.2],[-2.25,-14.2],[-2.1,-14.2],[-1.9,-14.2],[-1.7,-14.2],[-1.5,-14.2],[-1.3,-14.2],
[-2.3,-14.3],[-2.1,-14.3],[-1.85,-14.3],[-1.7,-14.3],[-1.5,-14.3],[-1.35,-14.3],
[-2.4,-14.4],[-2.2,-14.4],[-2.0,-14.4],[-1.75,-14.4],[-1.55,-14.4],[-1.4,-14.4],
[-2.2,-14.5],[-2.05,-14.5],[-1.8,-14.5],[-1.6,-14.5],[-1.4,-14.5],[-2.15,-14.6],[-1.95,-14.6],[-1.75,-14.6],[-1.55,-14.6],[-1.4,-14.6],
[-1.95,-14.7],[-1.8,-14.7],[-1.65,-14.7],[-1.45,-14.7],[-1.9,-14.8],[-1.75,-14.8],[-1.5,-14.8],[-1.8,-14.85],[-1.65,-14.9],[-1.55,-14.85],
[-3.3,-12.9],[-3.3,-13.05],[-3.2,-13.67],[-3.3,-13.9],[-3.25,-13.8],[-3.67,-14.07]
];
var c6 = [
[1.2,10.1],[0.9,9.95],[1.0,9.98],[1.2,9.95],[1.35,9.95],[0.6,9.8],[0.7,9.82],[0.8,9.8],[0.95,9.8],[1.15,9.8],[1.3,9.8],[1.45,9.8],
[0.35,9.65],[0.5,9.65],[0.65,9.65],[0.8,9.65],[0.95,9.65],[1.1,9.65],[1.3,9.65],[1.45,9.65],[1.55,9.6],
[0.15,9.5],[0.3,9.5],[0.45,9.5],[0.6,9.5],[0.75,9.5],[0.9,9.5],[1.05,9.5],[1.25,9.5],[1.4,9.5],[1.5,9.5],
[0.0,9.35],[0.15,9.35],[0.3,9.35],[0.45,9.35],[0.6,9.35],[0.75,9.35],[0.9,9.35],[1.05,9.35],[1.2,9.35],[1.3,9.35],
[-0.1,9.2],[0.05,9.2],[0.2,9.2],[0.35,9.2],[0.5,9.2],[0.65,9.2],[0.8,9.2],[0.95,9.2],[1.1,9.2],[1.25,9.2],
[-0.2,9.05],[-0.05,9.05],[0.1,9.05],[0.3,9.05],[0.45,9.05],[0.6,9.05],[0.8,9.05],[1.0,9.08],[1.25,9.1],[1.53,9.05],
[-0.3,8.9],[-0.15,8.9],[0.0,8.9],[0.2,8.9],[0.4,8.9],[0.6,8.9],[-0.4,8.75],[-0.25,8.75],[-0.1,8.75],[0.05,8.72],[0.5,8.75],
[-0.45,8.6],[-0.3,8.6],[-0.15,8.6],[-0.45,8.45],[-0.3,8.45],[-0.2,8.42],[-0.15,8.3],[-0.2,8.28],
[0.7,8.75],[0.76,8.67],[0.78,8.5],[0.5,8.2],[0.62,8.22],[0.72,8.1],[0.92,8.3],[1.71,2.76],[1.68,2.48]
];
var c7 = [
[10.3,0.82],[10.4,0.9],[10.5,0.98],[10.55,0.85],[10.65,1.05],[10.7,0.92],[10.8,1.15],[10.9,1.26],[10.95,1.1],[11.05,1.3],[11.1,1.18],[11.2,1.38],[11.3,1.3],[11.38,1.45],[11.5,1.54],
[11.55,1.4],[11.65,1.55],[11.72,1.45],[11.8,1.6],[11.9,1.5],[11.96,1.71],[12.02,1.58],[12.1,1.48],[12.2,1.6],[12.3,1.45],[12.4,1.55],[12.54,1.43],[12.65,1.5],[12.75,1.35],[12.85,1.42],
[12.95,1.3],[13.05,1.35],[13.15,1.22],[13.25,1.28],[13.33,1.19],[13.4,1.15],
[10.6,1.15],[10.85,1.35],[11.15,1.45],[11.35,1.55],[11.6,1.65],[11.85,1.65],[12.15,1.7],[12.3,1.6],[12.5,1.55],[12.7,1.45],[12.95,1.4],[13.2,1.3],[11.0,1.2],[11.3,1.4],[10.45,0.8],[10.6,0.95],
[10.55,0.42],[11.25,0.87],[11.4,1.0],[11.45,0.93],[11.9,0.98],[10.8,0.8],[11.0,0.95],[10.5,0.7],
[9.39,-4.69],[9.45,-4.72],[9.17,-4.93],[9.2,-4.85],[9.6,-4.98]
];
var c8 = [
[8.56,-10.35],[8.6,-10.4],[8.52,-10.5],[8.3,-10.6],[8.45,-10.75],[8.55,-10.7],[8.4,-10.85],[8.7,-10.9],
[8.2,-11.1],[8.35,-11.1],[8.5,-11.1],[8.8,-11.1],[8.9,-11.15],[8.0,-11.3],[8.2,-11.3],[8.35,-11.3],[8.55,-11.25],[8.75,-11.3],
[7.95,-11.4],[8.15,-11.4],[8.85,-11.4],
[7.85,-11.5],[8.05,-11.5],[8.2,-11.5],[8.75,-11.5],[8.9,-11.5],[9.05,-11.55],
[7.8,-11.6],[8.0,-11.6],[8.15,-11.6],[8.85,-11.6],[9.0,-11.6],
[7.7,-11.7],[7.85,-11.7],[8.1,-11.7],[8.35,-11.7],[8.45,-11.72],[8.7,-11.7],[8.85,-11.7],[9.0,-11.7],[9.15,-11.7],
[7.65,-11.8],[7.85,-11.8],[8.05,-11.8],[8.25,-11.8],[8.8,-11.8],[8.95,-11.8],[9.1,-11.8],
[7.55,-11.9],[7.75,-11.9],[7.95,-11.9],[8.15,-11.9],[8.35,-11.9],[8.7,-11.9],[8.85,-11.9],[9.0,-11.9],[9.15,-11.9],[9.25,-11.95],
[7.45,-12.0],[7.65,-12.0],[7.85,-12.0],[8.05,-12.0],[8.25,-12.0],[8.45,-12.0],[8.8,-12.0],[8.95,-12.0],[9.1,-12.0],
[7.4,-12.1],[7.55,-12.1],[7.75,-12.1],[7.9,-12.1],[8.1,-12.1],[8.3,-12.1],[8.5,-12.1],[8.7,-12.1],[8.85,-12.1],[9.0,-12.1],[9.15,-12.1],[9.25,-12.1],
[7.5,-12.2],[7.65,-12.2],[7.85,-12.2],[8.1,-12.2],[8.3,-12.2],[8.6,-12.2],[8.8,-12.2],[8.95,-12.2],[9.15,-12.2],
[7.4,-12.3],[7.6,-12.3],[7.75,-12.3],[8.0,-12.3],[8.2,-12.3],[8.7,-12.3],[8.85,-12.3],[9.05,-12.3],[9.2,-12.3],
[7.5,-12.4],[7.7,-12.4],[7.9,-12.4],[8.1,-12.4],[8.5,-12.4],[8.65,-12.4],[8.8,-12.4],[9.0,-12.4],[9.15,-12.4],
[7.55,-12.5],[7.75,-12.5],[7.95,-12.5],[8.1,-12.5],[8.4,-12.5],[8.55,-12.5],[8.7,-12.5],[8.9,-12.5],[9.05,-12.5],
[7.7,-12.6],[7.9,-12.6],[8.05,-12.6],[8.25,-12.6],[8.45,-12.6],[8.6,-12.6],[8.8,-12.6],[8.95,-12.6],
[8.0,-12.7],[8.2,-12.7],[8.35,-12.7],[8.5,-12.7],[8.65,-12.7],[8.8,-12.7],[-2.1,-13.25]
];
var c9 = [
[-12.9,3.43],[-12.5,3.08],[-12.42,3.0],[-12.23,2.8],[-12.15,2.72],[-12.1,2.66],[-12.02,2.55],
[-0.67,1.01],[-0.6,1.1],[-0.52,1.05],[-0.45,1.15],[-0.37,1.08],[-0.3,1.2],[-0.21,1.15],[-0.12,1.25],[-0.06,1.15],[0.05,1.3],[0.09,1.22],[0.2,1.35],[0.24,1.26],[0.35,1.4],[0.4,1.29],[0.5,1.45],[0.55,1.36],
[0.65,1.5],[0.7,1.36],[0.8,1.55],[0.86,1.4],[0.95,1.6],[1.0,1.47],[1.1,1.7],[1.16,1.54],[1.25,1.8],[1.31,1.71],[1.4,2.0],[1.41,1.92],[1.47,2.13],[1.38,2.2],
[0.0,1.05],[0.3,1.15],[0.6,1.25],[0.85,1.3],[1.15,1.4],[1.3,1.55],[-0.4,1.2],[-0.6,1.15],[1.0,1.7],[1.2,1.95],[1.35,2.1],[1.5,1.8],[1.5,2.3],[0.95,1.75],
[1.56,3.18],[1.43,2.98],[1.52,2.95],[-0.3,2.03],[-0.27,1.8],[-0.58,1.5],[1.62,2.17],[1.78,2.17],[2.05,2.45],[2.05,2.72],[2.3,2.72],[2.48,2.72]
];

// one dataset per cluster, same order as the legend
var clusterPoints = [c0,c1,c10,c11,c12,c13,c14,c15,c16,c2,c3,c4,c5,c6,c7,c8,c9];
var datasets = clusterNames.map(function (name, i) {
  return {
    label: name,
    data: clusterPoints[i].map(function (p) { return {x: p[0], y: p[1]}; }),
    backgroundColor: clusterColors[i],
    pointRadius: 3,
    borderWidth: 0
  };
});

// legend next to the plot, Chart.js can't space the dot and the text this far apart
var wrap = document.getElementById('wrap');
clusterNames.forEach(function (name, i) {
  var dot = document.createElement('div');
  dot.className = 'dot';
  dot.style.top = (114.5 + 46.05 * i) + 'px';
  dot.style.background = clusterColors[i];
  var lab = document.createElement('div');
  lab.className = 'lab';
  lab.style.top = (108 + 46.05 * i) + 'px';
  lab.textContent = name;
  wrap.appendChild(dot);
  wrap.appendChild(lab);
});

function gridStyle(labels) {
  return {
    color: '#EBEBEB',
    drawTicks: false,
    lineWidth: function (ctx) { return labels.indexOf(ctx.tick.value) >= 0 ? 2.7 : 1.35; }
  };
}

new Chart(document.getElementById('umap'), {
  type: 'scatter',
  data: {datasets: datasets},
  options: {
    responsive: false,
    animation: false,
    layout: {padding: {right: 161}},
    plugins: {
      legend: {display: false},
      tooltip: {enabled: false},
      title: {
        display: true,
        text: 'PBMC clusters',
        align: 'start',
        fullSize: false,
        color: '#000',
        font: {family: 'Liberation Sans', size: 35, weight: 'normal'},
        padding: {top: 10, bottom: 11}
      }
    },
    scales: {
      x: {
        min: -18.15,
        max: 15,
        afterFit: function (s) { s.height = 85; },
        afterBuildTicks: function (s) { s.ticks = xGrid.map(function (v) { return {value: v}; }); },
        border: {display: false},
        grid: gridStyle(xLabels),
        ticks: {
          autoSkip: false,
          maxRotation: 0,
          padding: 9,
          color: '#4D4D4D',
          font: {family: 'Liberation Sans', size: 23},
          callback: function (v) { return xLabels.indexOf(v) >= 0 ? String(v) : ''; }
        },
        title: {
          display: true,
          text: 'UMAP_1',
          color: '#000',
          font: {family: 'Liberation Sans', size: 29},
          padding: {top: 0, bottom: 14}
        }
      },
      y: {
        min: -16.22,
        max: 12.17,
        afterFit: function (s) { s.width = 99; },
        afterBuildTicks: function (s) { s.ticks = yGrid.map(function (v) { return {value: v}; }); },
        border: {display: false},
        grid: gridStyle(yLabels),
        ticks: {
          autoSkip: false,
          padding: 14,
          color: '#4D4D4D',
          // small line height so the empty first line nudges the label down to the grid line
          font: {family: 'Liberation Sans', size: 23, lineHeight: '4px'},
          callback: function (v) { return yLabels.indexOf(v) >= 0 ? ['', String(v)] : ''; }
        },
        title: {
          display: true,
          text: 'UMAP_2',
          color: '#000',
          font: {family: 'Liberation Sans', size: 29},
          padding: {top: 11, bottom: 0}
        }
      }
    }
  }
});
</script>
</body>
</html>
